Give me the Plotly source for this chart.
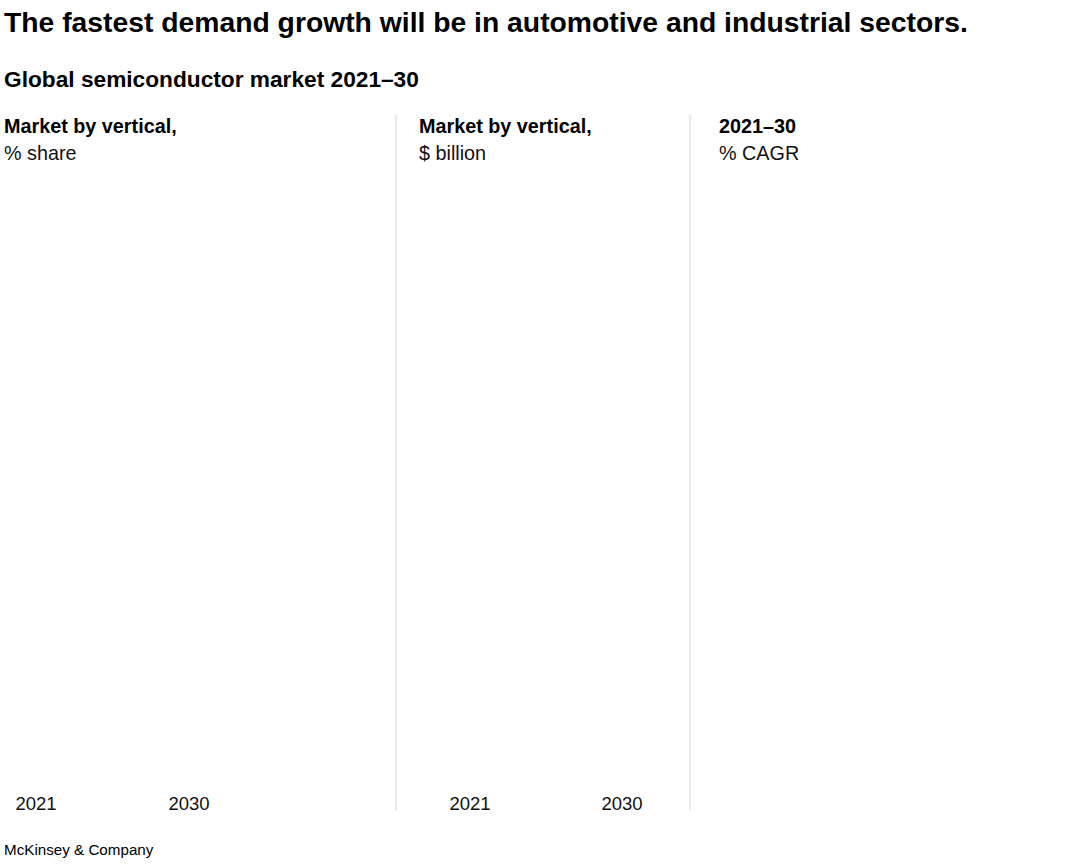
import plotly.graph_objects as go

W, H = 1080, 866

title = "The fastest demand growth will be in automotive and industrial sectors."
subtitle = "Global semiconductor market 2021–30"
panel_heads = ["Market by vertical,", "Market by vertical,", "2021–30"]
panel_units = ["% share", "$ billion", "% CAGR"]
years = ["2021", "2030"]
source = "McKinsey & Company"

FONT = "Liberation Sans"

def px(x):
    return x / W

def py(y):
    return 1 - y / H

fig = go.Figure()

# empty data traces (the reference shows no marks)
fig.add_trace(go.Scatter(x=years, y=[None, None], xaxis="x", yaxis="y",
                         mode="markers", showlegend=False, hoverinfo="skip"))
fig.add_trace(go.Scatter(x=years, y=[None, None], xaxis="x2", yaxis="y2",
                         mode="markers", showlegend=False, hoverinfo="skip"))

ydom = [py(790), py(175)]

common_x = dict(type="category", categoryorder="array", categoryarray=years,
                showgrid=False, zeroline=False, showline=False, ticks="",
                tickfont=dict(family=FONT, size=18.5, color="#111"),
                fixedrange=True)
common_y = dict(visible=False, range=[0, 1], fixedrange=True)

fig.update_layout(
    width=W, height=H,
    margin=dict(l=0, r=0, t=0, b=0),
    paper_bgcolor="white", plot_bgcolor="white",
    showlegend=False,
    xaxis=dict(domain=[px(0), px(380)], range=[-36/153, -36/153 + 380/153], **common_x),
    yaxis=dict(domain=ydom, anchor="x", **common_y),
    xaxis2=dict(domain=[px(405), px(680)], range=[-65/152, -65/152 + 275/152],
                anchor="y2", **common_x),
    yaxis2=dict(domain=ydom, anchor="x2", **common_y),
)

ann = []
ann.append(dict(text=f"<b>{title}</b>", x=px(2), y=py(22), xref="paper", yref="paper",
                xanchor="left", yanchor="middle", showarrow=False,
                font=dict(family=FONT, size=28.3, color="#000")))
ann.append(dict(text=f"<b>{subtitle}</b>", x=px(2), y=py(79), xref="paper", yref="paper",
                xanchor="left", yanchor="middle", showarrow=False,
                font=dict(family=FONT, size=22.7, color="#000")))
head_x = [2, 417, 717]
for hx, h, u in zip(head_x, panel_heads, panel_units):
    ann.append(dict(text=f"<b>{h}</b>", x=px(hx), y=py(126), xref="paper", yref="paper",
                    xanchor="left", yanchor="middle", showarrow=False,
                    font=dict(family=FONT, size=19.8, color="#000")))
    ann.append(dict(text=u, x=px(hx), y=py(153), xref="paper", yref="paper",
                    xanchor="left", yanchor="middle", showarrow=False,
                    font=dict(family=FONT, size=19.8, color="#111")))
ann.append(dict(text=source, x=px(2), y=py(849), xref="paper", yref="paper",
                xanchor="left", yanchor="middle", showarrow=False,
                font=dict(family=FONT, size=15.2, color="#000")))
fig.update_layout(annotations=ann)

shapes = []
for sx in [396, 690]:
    shapes.append(dict(type="line", xref="paper", yref="paper",
                       x0=px(sx), x1=px(sx), y0=py(115), y1=py(810),
                       line=dict(color="#d2d2d2", width=1)))
fig.update_layout(shapes=shapes)

fig.write_html("out.html", config={"displayModeBar": False},
               post_script="document.body.style.margin='0';")
